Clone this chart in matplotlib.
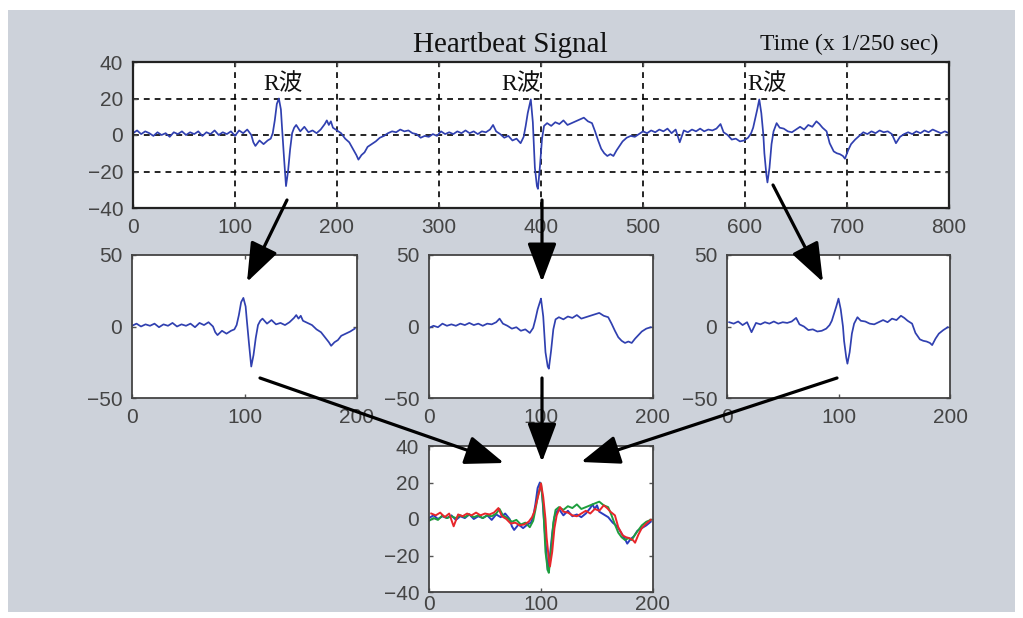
import numpy as np
import matplotlib.pyplot as plt
from matplotlib.patches import Rectangle, FancyArrowPatch

# heartbeat trace: sample index (x 1/250 sec) and amplitude
t_top = [0, 4, 8, 12, 16, 20, 24, 28, 32, 36, 40, 44, 48, 52, 56, 60, 64, 68, 72, 76,
         80, 84, 88, 92, 96, 100, 104, 108, 112, 116, 118, 120, 124, 128, 132, 135, 137,
         139, 141, 143, 145, 146, 148, 150, 152, 154, 156, 158, 160, 164, 168, 172, 176,
         180, 184, 188, 190, 192, 194, 196, 200, 204, 208, 212, 216, 219, 221, 224, 227,
         230, 234, 238, 242, 246, 250, 254, 258, 262, 266, 270, 274, 278, 282, 286, 290,
         294, 298, 302, 306, 310, 314, 318, 322, 326, 330, 334, 338, 342, 346, 350, 353,
         356, 360, 364, 368, 372, 376, 380, 383, 385, 387, 389, 390, 392, 394, 396, 397,
         399, 401, 403, 406, 410, 414, 418, 422, 426, 430, 434, 438, 442, 446, 450, 453,
         456, 459, 462, 465, 468, 471, 474, 477, 480, 484, 488, 492, 496, 500, 504, 508,
         512, 516, 520, 524, 528, 532, 536, 540, 544, 548, 552, 556, 560, 564, 568, 572,
         576, 579, 583, 587, 591, 595, 599, 603, 606, 608, 610, 612, 614, 616, 618, 619,
         621, 622, 624, 626, 628, 631, 634, 638, 642, 646, 650, 654, 658, 662, 666, 670,
         673, 676, 680, 683, 687, 690, 693, 696, 698, 701, 704, 708, 712, 716, 720, 724,
         728, 732, 736, 740, 744, 748, 752, 756, 760, 764, 768, 772, 776, 780, 784, 788,
         792, 796, 800]
ecg_top = [1, 2.5, 0.5, 2, 1, -0.5, 1.5, 0, 1, -1, 1.5, 0.5, 2, 0, 1.5, 0.5, 2, -0.5, 1.5, 0.5,
           2.5, 0, 1.5, 0.5, 2, -0.5, 2.5, 1, 3, 0, -4, -6, -3, -5, -3, -2, 1,
           8, 17, 20, 14, 5, -12, -28, -20, -8, 1, 4, 5.5, 2, 4.5, 1.5, 2.5,
           1, 3, 6, 8, 5.5, 7.5, 4, 2.5, 1, -2, -4, -8, -11, -13.5, -11, -9.5,
           -6.5, -5, -3.5, -1.5, -0.5, 1, 2, 1.5, 3, 2, 2.5, 1, 0.5, -1.5, -0.5, -1,
           0.5, -0.5, 2, 0.5, 1.5, 0.5, 2, 1, 2.5, 1, 2, 0.5, 2, 1.5, 3, 5.5,
           2, 0.5, -1.5, -0.5, -3, -2, -4.5, -1, 5, 12, 17, 19.5, 7, -18, -28, -29.5,
           -17, -2, 5, 6.5, 5, 7, 6, 8, 5.5, 6.5, 7.5, 8.5, 9.5, 7.5, 6.5, 2,
           -3, -7.5, -10, -11.5, -10.5, -11.5, -8.5, -6, -3.5, -1.5, -0.5, -1, 0.5, 2, 1, 2.5,
           1.5, 3, 2, 3.5, 1, 3, -4, 2.5, 1.5, 3, 2, 3.5, 2, 3, 2.5, 3.5,
           6, 1.5, 0, -2.5, -2, -3.5, -3, -1.5, 1, 4, 9, 14, 19.5, 12, 0, -10,
           -22, -26, -18, -5, 2, 6.5, 4, 3.5, 2, 1.5, 3, 4.5, 3, 5.5, 4.5, 7.5,
           6, 4, 2, -4.5, -9, -10, -10.5, -11.5, -13, -8.5, -5, -2.5, -0.5, 1.5, 0.5, 2,
           1, 2.5, 1.5, 2, 0.5, -4.5, -1, 0.5, 1.5, 0.5, 2, 1, 2.5, 1.5, 3, 2,
           1, 2, 1]

# R wave peaks, each cut out as a 200 sample window with the peak at 100
r_peaks = [144, 390, 614]
win_len = 200
win_colors = ['#2b3cc0', '#1e9e3e', '#e8262b']
trace_color = '#3040b0'
top_xticks = [0, 100, 200, 300, 400, 500, 600, 700, 800]
top_yticks = [-40, -20, 0, 20, 40]

W, H = 1023, 618


def box(x0, y0, x1, y1):
    return [x0 / W, 1 - y1 / H, (x1 - x0) / W, (y1 - y0) / H]


def pt(x, y):
    return (x / W, 1 - y / H)


def window(peak):
    t = np.array(t_top)
    e = np.array(ecg_top)
    start = peak - 100
    m = (t >= start) & (t <= start + win_len)
    return t[m] - start, e[m]


def style(ax, xticks, yticks, ylim, xlim):
    ax.set_xlim(*xlim)
    ax.set_ylim(*ylim)
    ax.set_xticks(xticks)
    ax.set_yticks(yticks)
    ax.tick_params(direction='in', length=3, width=1, color='#555555', top=True, right=True,
                   labelsize=15, labelcolor='#444444', pad=7)
    for lab in ax.get_xticklabels() + ax.get_yticklabels():
        lab.set_family('Liberation Sans')
    for s in ax.spines.values():
        s.set_color('#444444')
        s.set_linewidth(1.3)


fig = plt.figure(figsize=(W / 100, H / 100), dpi=100, facecolor='white')
fig.add_artist(Rectangle(pt(8, 612), 1007 / W, 602 / H, transform=fig.transFigure,
                         facecolor='#cdd2da', edgecolor='none', zorder=-10))

# whole trace
ax = fig.add_axes(box(133, 62, 949, 208))
ax.plot(t_top, ecg_top, color=trace_color, lw=1.25)
style(ax, top_xticks, top_yticks, (-40, 40), (0, 800))
ax.grid(True, color='black', ls=(0, (3.5, 3)), lw=1.2)
for s in ax.spines.values():
    s.set_color('#222222')
    s.set_linewidth(1.6)

for x, y in [(283, 90), (521, 90), (767, 90)]:
    fig.text(*pt(x, y), 'R波', ha='center', va='baseline', fontsize=17,
             family=['Liberation Serif', 'Noto Sans CJK JP'], color='#111111')

fig.text(*pt(510, 52), 'Heartbeat Signal', ha='center', va='baseline', fontsize=21,
         family='Liberation Serif', color='#111111')
fig.text(*pt(849, 50), 'Time (x 1/250 sec)', ha='center', va='baseline', fontsize=17,
         family='Liberation Serif', color='#111111')

# one window per R wave
for peak, (x0, x1) in zip(r_peaks, [(132, 357), (429, 653), (727, 950)]):
    a = fig.add_axes(box(x0, 255, x1, 398))
    tw, ew = window(peak)
    a.plot(tw, ew, color=trace_color, lw=1.25)
    style(a, [0, 100, 200], [-50, 0, 50], (-50, 50), (0, 200))

# the three windows laid over each other
ab = fig.add_axes(box(429, 446, 653, 592))
for peak, c in zip(r_peaks, win_colors):
    tw, ew = window(peak)
    ab.plot(tw, ew, color=c, lw=1.4)
style(ab, [0, 100, 200], [-40, -20, 0, 20, 40], (-40, 40), (0, 200))
ab.tick_params(axis='x', pad=2)

arrows = [((287, 200), (247, 282)), ((542, 200), (542, 282)), ((773, 185), (823, 282)),
          ((260, 378), (504, 463)), ((542, 378), (542, 462)), ((837, 378), (581, 462))]
for (xa, ya), (xb, yb) in arrows:
    fig.add_artist(FancyArrowPatch(pt(xa, ya), pt(xb, yb), transform=fig.transFigure,
                                   arrowstyle='-|>,head_length=1.2,head_width=0.45',
                                   mutation_scale=20, color='black', lw=2.3,
                                   shrinkA=0, shrinkB=0))

fig.savefig('out.png', dpi=100, facecolor=fig.get_facecolor())
